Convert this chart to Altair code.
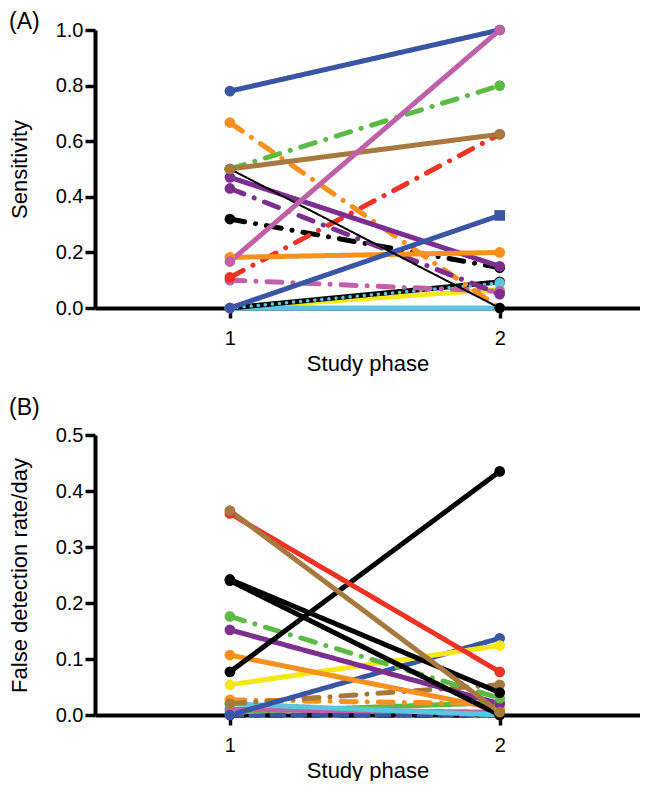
import altair as alt
import pandas as pd

# ---- Panel A: sensitivity (phase 1 -> phase 2) ----
a_colors = ["#f4e819", "#5bc5dd", "#000000", "#5bc5dd", "#c060a8", "#000000",
            "#ee3224", "#f7901e", "#7d2f90", "#7d2f90", "#f7901e", "#3b55a5",
            "#000000", "#5bbb46", "#a8793e", "#3b55a5", "#c060a8"]
a_dash = ["solid", "solid", "solid", "dot", "dashdot", "dashdot",
          "dashdot", "dashdot", "dashdot", "solid", "solid", "solid",
          "thin", "dashdot", "solid", "solid", "solid"]
a_start = [0.0, 0.0, 0.0, 0.0, 0.10, 0.32, 0.11, 0.667, 0.43, 0.47, 0.182, 0.0,
           0.5, 0.5, 0.5, 0.78, 0.167]
a_end = [0.067, 0.0, 0.094, 0.09, 0.06, 0.145, 0.625, 0.0, 0.05, 0.15, 0.2, 0.333,
         0.0, 0.8, 0.625, 1.0, 1.0]
a_end_shape = ["circle"] * 11 + ["square"] + ["circle"] * 5

# ---- Panel B: false detection rate/day ----
b_colors = ["#000000", "#3b55a5", "#5bbb46", "#c060a8", "#5bc5dd", "#f7901e",
            "#a8793e", "#3b55a5", "#f4e819", "#f7901e", "#7d2f90", "#5bbb46",
            "#000000", "#000000", "#000000", "#ee3224", "#a8793e"]
b_dash = ["dashdot", "dash", "solid", "solid", "solid", "dashdot",
          "dashdot", "solid", "solid", "solid", "solid", "dashdot",
          "solid", "solid", "solid", "solid", "solid"]
b_start = [0.0, 0.0, 0.005, 0.01, 0.02, 0.027, 0.02, 0.0, 0.054, 0.107, 0.152, 0.176,
           0.077, 0.242, 0.24, 0.36, 0.365]
b_end = [0.0, 0.0, 0.022, 0.005, 0.0, 0.02, 0.054, 0.137, 0.124, 0.01, 0.02, 0.03,
         0.435, 0.04, 0.0, 0.077, 0.005]

phases = [1, 2]


def build(prefix, colors, dashes, starts, ends, end_shapes=None):
    rows = []
    for i, (c, d, s, e) in enumerate(zip(colors, dashes, starts, ends)):
        sid = f"{prefix}{i:02d}"
        for p, v in zip(phases, (s, e)):
            shp = "circle"
            if end_shapes is not None and p == 2:
                shp = end_shapes[i]
            rows.append({"id": sid, "phase": p, "value": v,
                         "color": c, "dash": d, "shape": shp,
                         "w": 2.0 if d == "thin" else (3.5 if d == "dot" else 5.0)})
    return pd.DataFrame(rows)


dash_dom = ["solid", "thin", "dashdot", "dot", "dash"]
dash_rng = [[1, 0], [1, 0], [15, 11, 0.1, 11], [0.1, 7], [12, 9]]
FONT = "Liberation Sans"


def panel(df, ymax, ytitle, ystep, letter, letter_y, height):
    x = alt.X("phase:Q", scale=alt.Scale(domain=[0.5, 2.52], nice=False, zero=False),
              axis=alt.Axis(values=[1, 2], title="Study phase", format="d",
                            grid=False, domainWidth=4, domainColor="black",
                            tickWidth=3.5, tickSize=10, tickColor="black",
                            labelFontSize=20, labelFont=FONT,
                            labelColor="black", labelPadding=10,
                            titleFontSize=22, titleFont=FONT,
                            titleFontWeight="normal", titleColor="black",
                            titlePadding=5))
    y = alt.Y("value:Q", scale=alt.Scale(domain=[0, ymax], nice=False),
              axis=alt.Axis(values=[round(k * ystep, 2) for k in range(int(round(ymax / ystep)) + 1)],
                            format=".1f", title=ytitle, grid=False,
                            domainWidth=4, domainColor="black",
                            tickWidth=3.5, tickSize=10, tickColor="black",
                            labelFontSize=20, labelFont=FONT,
                            labelColor="black", labelPadding=2,
                            titleFontSize=22, titleFont=FONT,
                            titleFontWeight="normal", titleColor="black",
                            titlePadding=24))
    color = alt.Color("color:N", scale=None)
    base = alt.Chart(df)
    lines = base.mark_line(strokeCap="round", clip=False).encode(
        x=x, y=y, color=color, detail="id:N",
        strokeDash=alt.StrokeDash("dash:N", scale=alt.Scale(domain=dash_dom, range=dash_rng), legend=None),
        strokeWidth=alt.StrokeWidth("w:Q", scale=None),
        order="phase:Q",
    )
    pts = base.mark_point(filled=True, opacity=1, size=115, clip=False).encode(
        x=x, y=y, color=color,
        shape=alt.Shape("shape:N", scale=alt.Scale(domain=["circle", "square"], range=["circle", "square"]), legend=None),
    )
    lab = alt.Chart(pd.DataFrame({"t": [letter]})).mark_text(
        align="left", baseline="middle", fontSize=23, font=FONT, color="black"
    ).encode(text="t:N", x=alt.value(-86), y=alt.value(letter_y))
    return alt.layer(lines, pts, lab).properties(width=545, height=height)


dfa = build("a", a_colors, a_dash, a_start, a_end, a_end_shape)
dfb = build("b", b_colors, b_dash, b_start, b_end)

pa = panel(dfa, 1.0, "Sensitivity", 0.2, "(A)", -8, 278)
pb = panel(dfb, 0.5, "False detection rate/day", 0.1, "(B)", -27, 280)

chart = alt.vconcat(pa, pb, spacing=23).properties(
    padding={"left": 0, "top": 3, "right": 0, "bottom": 0}
).configure(background="white").configure_view(stroke="transparent", strokeWidth=0)

chart.save("out.html", embed_options={"renderer": "svg", "actions": False})
